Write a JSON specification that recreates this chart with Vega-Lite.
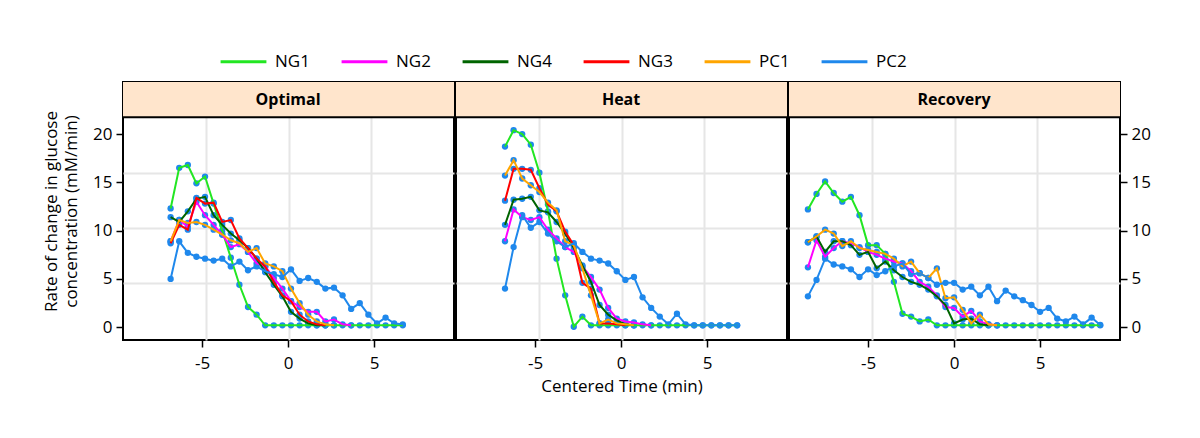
{
"$schema": "https://vega.github.io/schema/vega-lite/v6.json",
"padding": {"left": 41, "top": 37, "right": 5, "bottom": 5},
"data": {"values": [
{"panel":"Optimal","series":"NG1","time":-6.83,"rate":12.3},{"panel":"Optimal","series":"NG1","time":-6.33,"rate":16.5},{"panel":"Optimal","series":"NG1","time":-5.83,"rate":16.8},{"panel":"Optimal","series":"NG1","time":-5.33,"rate":14.9},{"panel":"Optimal","series":"NG1","time":-4.83,"rate":15.6},{"panel":"Optimal","series":"NG1","time":-4.33,"rate":12.8},{"panel":"Optimal","series":"NG1","time":-3.83,"rate":10.0},{"panel":"Optimal","series":"NG1","time":-3.33,"rate":7.2},{"panel":"Optimal","series":"NG1","time":-2.83,"rate":4.4},{"panel":"Optimal","series":"NG1","time":-2.33,"rate":2.1},{"panel":"Optimal","series":"NG1","time":-1.83,"rate":1.3},{"panel":"Optimal","series":"NG1","time":-1.33,"rate":0.2},{"panel":"Optimal","series":"NG1","time":-0.83,"rate":0.2},{"panel":"Optimal","series":"NG1","time":-0.33,"rate":0.2},{"panel":"Optimal","series":"NG1","time":0.17,"rate":0.2},{"panel":"Optimal","series":"NG1","time":0.67,"rate":0.2},{"panel":"Optimal","series":"NG1","time":1.17,"rate":0.2},{"panel":"Optimal","series":"NG1","time":1.67,"rate":0.2},{"panel":"Optimal","series":"NG1","time":2.17,"rate":0.2},{"panel":"Optimal","series":"NG1","time":2.67,"rate":0.2},{"panel":"Optimal","series":"NG1","time":3.17,"rate":0.2},{"panel":"Optimal","series":"NG1","time":3.67,"rate":0.2},{"panel":"Optimal","series":"NG1","time":4.17,"rate":0.2},{"panel":"Optimal","series":"NG1","time":4.67,"rate":0.2},{"panel":"Optimal","series":"NG1","time":5.17,"rate":0.2},{"panel":"Optimal","series":"NG1","time":5.67,"rate":0.2},{"panel":"Optimal","series":"NG1","time":6.17,"rate":0.2},{"panel":"Optimal","series":"NG1","time":6.67,"rate":0.2},
{"panel":"Optimal","series":"NG2","time":-6.83,"rate":8.9},{"panel":"Optimal","series":"NG2","time":-6.33,"rate":11.1},{"panel":"Optimal","series":"NG2","time":-5.83,"rate":10.4},{"panel":"Optimal","series":"NG2","time":-5.33,"rate":13.0},{"panel":"Optimal","series":"NG2","time":-4.83,"rate":11.6},{"panel":"Optimal","series":"NG2","time":-4.33,"rate":10.6},{"panel":"Optimal","series":"NG2","time":-3.83,"rate":9.6},{"panel":"Optimal","series":"NG2","time":-3.33,"rate":8.3},{"panel":"Optimal","series":"NG2","time":-2.83,"rate":8.6},{"panel":"Optimal","series":"NG2","time":-2.33,"rate":7.8},{"panel":"Optimal","series":"NG2","time":-1.83,"rate":6.6},{"panel":"Optimal","series":"NG2","time":-1.33,"rate":6.3},{"panel":"Optimal","series":"NG2","time":-0.83,"rate":5.1},{"panel":"Optimal","series":"NG2","time":-0.33,"rate":4.0},{"panel":"Optimal","series":"NG2","time":0.17,"rate":2.7},{"panel":"Optimal","series":"NG2","time":0.67,"rate":2.1},{"panel":"Optimal","series":"NG2","time":1.17,"rate":1.6},{"panel":"Optimal","series":"NG2","time":1.67,"rate":1.6},{"panel":"Optimal","series":"NG2","time":2.17,"rate":0.6},{"panel":"Optimal","series":"NG2","time":2.67,"rate":0.8},{"panel":"Optimal","series":"NG2","time":3.17,"rate":0.3},{"panel":"Optimal","series":"NG2","time":3.67,"rate":0.2},
{"panel":"Optimal","series":"NG4","time":-6.83,"rate":11.4},{"panel":"Optimal","series":"NG4","time":-6.33,"rate":10.9},{"panel":"Optimal","series":"NG4","time":-5.83,"rate":12.0},{"panel":"Optimal","series":"NG4","time":-5.33,"rate":13.3},{"panel":"Optimal","series":"NG4","time":-4.83,"rate":13.5},{"panel":"Optimal","series":"NG4","time":-4.33,"rate":11.6},{"panel":"Optimal","series":"NG4","time":-3.83,"rate":10.6},{"panel":"Optimal","series":"NG4","time":-3.33,"rate":9.7},{"panel":"Optimal","series":"NG4","time":-2.83,"rate":9.0},{"panel":"Optimal","series":"NG4","time":-2.33,"rate":8.2},{"panel":"Optimal","series":"NG4","time":-1.83,"rate":7.1},{"panel":"Optimal","series":"NG4","time":-1.33,"rate":5.7},{"panel":"Optimal","series":"NG4","time":-0.83,"rate":4.4},{"panel":"Optimal","series":"NG4","time":-0.33,"rate":3.2},{"panel":"Optimal","series":"NG4","time":0.17,"rate":1.6},{"panel":"Optimal","series":"NG4","time":0.67,"rate":0.9},{"panel":"Optimal","series":"NG4","time":1.17,"rate":0.4},{"panel":"Optimal","series":"NG4","time":1.67,"rate":0.2},{"panel":"Optimal","series":"NG4","time":2.17,"rate":0.2},
{"panel":"Optimal","series":"NG3","time":-6.83,"rate":8.7},{"panel":"Optimal","series":"NG3","time":-6.33,"rate":10.6},{"panel":"Optimal","series":"NG3","time":-5.83,"rate":10.1},{"panel":"Optimal","series":"NG3","time":-5.33,"rate":13.4},{"panel":"Optimal","series":"NG3","time":-4.83,"rate":12.8},{"panel":"Optimal","series":"NG3","time":-4.33,"rate":12.9},{"panel":"Optimal","series":"NG3","time":-3.83,"rate":10.9},{"panel":"Optimal","series":"NG3","time":-3.33,"rate":11.1},{"panel":"Optimal","series":"NG3","time":-2.83,"rate":9.2},{"panel":"Optimal","series":"NG3","time":-2.33,"rate":8.2},{"panel":"Optimal","series":"NG3","time":-1.83,"rate":7.1},{"panel":"Optimal","series":"NG3","time":-1.33,"rate":6.3},{"panel":"Optimal","series":"NG3","time":-0.83,"rate":4.7},{"panel":"Optimal","series":"NG3","time":-0.33,"rate":3.3},{"panel":"Optimal","series":"NG3","time":0.17,"rate":2.7},{"panel":"Optimal","series":"NG3","time":0.67,"rate":1.3},{"panel":"Optimal","series":"NG3","time":1.17,"rate":0.6},{"panel":"Optimal","series":"NG3","time":1.67,"rate":0.3},{"panel":"Optimal","series":"NG3","time":2.17,"rate":0.2},
{"panel":"Optimal","series":"PC1","time":-6.83,"rate":8.9},{"panel":"Optimal","series":"PC1","time":-6.33,"rate":11.1},{"panel":"Optimal","series":"PC1","time":-5.83,"rate":10.8},{"panel":"Optimal","series":"PC1","time":-5.33,"rate":10.9},{"panel":"Optimal","series":"PC1","time":-4.83,"rate":10.6},{"panel":"Optimal","series":"PC1","time":-4.33,"rate":10.1},{"panel":"Optimal","series":"PC1","time":-3.83,"rate":9.6},{"panel":"Optimal","series":"PC1","time":-3.33,"rate":9.0},{"panel":"Optimal","series":"PC1","time":-2.83,"rate":8.7},{"panel":"Optimal","series":"PC1","time":-2.33,"rate":7.8},{"panel":"Optimal","series":"PC1","time":-1.83,"rate":8.2},{"panel":"Optimal","series":"PC1","time":-1.33,"rate":6.6},{"panel":"Optimal","series":"PC1","time":-0.83,"rate":6.3},{"panel":"Optimal","series":"PC1","time":-0.33,"rate":5.8},{"panel":"Optimal","series":"PC1","time":0.17,"rate":4.0},{"panel":"Optimal","series":"PC1","time":0.67,"rate":2.5},{"panel":"Optimal","series":"PC1","time":1.17,"rate":1.3},{"panel":"Optimal","series":"PC1","time":1.67,"rate":0.6},{"panel":"Optimal","series":"PC1","time":2.17,"rate":0.3},{"panel":"Optimal","series":"PC1","time":2.67,"rate":0.2},
{"panel":"Optimal","series":"PC2","time":-6.83,"rate":5.0},{"panel":"Optimal","series":"PC2","time":-6.33,"rate":8.9},{"panel":"Optimal","series":"PC2","time":-5.83,"rate":7.7},{"panel":"Optimal","series":"PC2","time":-5.33,"rate":7.3},{"panel":"Optimal","series":"PC2","time":-4.83,"rate":7.1},{"panel":"Optimal","series":"PC2","time":-4.33,"rate":6.9},{"panel":"Optimal","series":"PC2","time":-3.83,"rate":7.1},{"panel":"Optimal","series":"PC2","time":-3.33,"rate":6.3},{"panel":"Optimal","series":"PC2","time":-2.83,"rate":6.8},{"panel":"Optimal","series":"PC2","time":-2.33,"rate":5.9},{"panel":"Optimal","series":"PC2","time":-1.83,"rate":6.3},{"panel":"Optimal","series":"PC2","time":-1.33,"rate":5.8},{"panel":"Optimal","series":"PC2","time":-0.83,"rate":5.5},{"panel":"Optimal","series":"PC2","time":-0.33,"rate":5.2},{"panel":"Optimal","series":"PC2","time":0.17,"rate":6.0},{"panel":"Optimal","series":"PC2","time":0.67,"rate":4.8},{"panel":"Optimal","series":"PC2","time":1.17,"rate":5.1},{"panel":"Optimal","series":"PC2","time":1.67,"rate":4.7},{"panel":"Optimal","series":"PC2","time":2.17,"rate":4.0},{"panel":"Optimal","series":"PC2","time":2.67,"rate":4.1},{"panel":"Optimal","series":"PC2","time":3.17,"rate":3.3},{"panel":"Optimal","series":"PC2","time":3.67,"rate":1.9},{"panel":"Optimal","series":"PC2","time":4.17,"rate":2.5},{"panel":"Optimal","series":"PC2","time":4.67,"rate":1.3},{"panel":"Optimal","series":"PC2","time":5.17,"rate":0.4},{"panel":"Optimal","series":"PC2","time":5.67,"rate":1.0},{"panel":"Optimal","series":"PC2","time":6.17,"rate":0.4},{"panel":"Optimal","series":"PC2","time":6.67,"rate":0.3},
{"panel":"Heat","series":"NG1","time":-6.75,"rate":18.7},{"panel":"Heat","series":"NG1","time":-6.25,"rate":20.4},{"panel":"Heat","series":"NG1","time":-5.75,"rate":20.0},{"panel":"Heat","series":"NG1","time":-5.25,"rate":18.9},{"panel":"Heat","series":"NG1","time":-4.75,"rate":16.0},{"panel":"Heat","series":"NG1","time":-4.25,"rate":12.0},{"panel":"Heat","series":"NG1","time":-3.75,"rate":7.1},{"panel":"Heat","series":"NG1","time":-3.25,"rate":3.3},{"panel":"Heat","series":"NG1","time":-2.75,"rate":0.05},{"panel":"Heat","series":"NG1","time":-2.25,"rate":1.1},{"panel":"Heat","series":"NG1","time":-1.75,"rate":0.2},{"panel":"Heat","series":"NG1","time":-1.25,"rate":0.2},{"panel":"Heat","series":"NG1","time":-0.75,"rate":0.2},{"panel":"Heat","series":"NG1","time":-0.25,"rate":0.2},{"panel":"Heat","series":"NG1","time":0.25,"rate":0.2},{"panel":"Heat","series":"NG1","time":0.75,"rate":0.2},{"panel":"Heat","series":"NG1","time":1.25,"rate":0.2},{"panel":"Heat","series":"NG1","time":1.75,"rate":0.2},{"panel":"Heat","series":"NG1","time":2.25,"rate":0.2},{"panel":"Heat","series":"NG1","time":2.75,"rate":0.2},{"panel":"Heat","series":"NG1","time":3.25,"rate":0.2},{"panel":"Heat","series":"NG1","time":3.75,"rate":0.2},{"panel":"Heat","series":"NG1","time":4.25,"rate":0.2},{"panel":"Heat","series":"NG1","time":4.75,"rate":0.2},{"panel":"Heat","series":"NG1","time":5.25,"rate":0.2},{"panel":"Heat","series":"NG1","time":5.75,"rate":0.2},{"panel":"Heat","series":"NG1","time":6.25,"rate":0.2},{"panel":"Heat","series":"NG1","time":6.75,"rate":0.2},
{"panel":"Heat","series":"NG2","time":-6.75,"rate":8.9},{"panel":"Heat","series":"NG2","time":-6.25,"rate":12.2},{"panel":"Heat","series":"NG2","time":-5.75,"rate":11.4},{"panel":"Heat","series":"NG2","time":-5.25,"rate":11.1},{"panel":"Heat","series":"NG2","time":-4.75,"rate":11.4},{"panel":"Heat","series":"NG2","time":-4.25,"rate":10.1},{"panel":"Heat","series":"NG2","time":-3.75,"rate":9.2},{"panel":"Heat","series":"NG2","time":-3.25,"rate":8.3},{"panel":"Heat","series":"NG2","time":-2.75,"rate":7.8},{"panel":"Heat","series":"NG2","time":-2.25,"rate":6.3},{"panel":"Heat","series":"NG2","time":-1.75,"rate":5.2},{"panel":"Heat","series":"NG2","time":-1.25,"rate":3.9},{"panel":"Heat","series":"NG2","time":-0.75,"rate":2.0},{"panel":"Heat","series":"NG2","time":-0.25,"rate":0.9},{"panel":"Heat","series":"NG2","time":0.25,"rate":0.6},{"panel":"Heat","series":"NG2","time":0.75,"rate":0.5},{"panel":"Heat","series":"NG2","time":1.25,"rate":0.3},{"panel":"Heat","series":"NG2","time":1.75,"rate":0.2},
{"panel":"Heat","series":"NG4","time":-6.75,"rate":10.6},{"panel":"Heat","series":"NG4","time":-6.25,"rate":13.2},{"panel":"Heat","series":"NG4","time":-5.75,"rate":13.3},{"panel":"Heat","series":"NG4","time":-5.25,"rate":13.5},{"panel":"Heat","series":"NG4","time":-4.75,"rate":12.1},{"panel":"Heat","series":"NG4","time":-4.25,"rate":11.9},{"panel":"Heat","series":"NG4","time":-3.75,"rate":10.9},{"panel":"Heat","series":"NG4","time":-3.25,"rate":9.7},{"panel":"Heat","series":"NG4","time":-2.75,"rate":8.2},{"panel":"Heat","series":"NG4","time":-2.25,"rate":6.4},{"panel":"Heat","series":"NG4","time":-1.75,"rate":4.7},{"panel":"Heat","series":"NG4","time":-1.25,"rate":2.3},{"panel":"Heat","series":"NG4","time":-0.75,"rate":1.3},{"panel":"Heat","series":"NG4","time":-0.25,"rate":0.7},{"panel":"Heat","series":"NG4","time":0.25,"rate":0.3},{"panel":"Heat","series":"NG4","time":0.75,"rate":0.2},
{"panel":"Heat","series":"NG3","time":-6.75,"rate":13.1},{"panel":"Heat","series":"NG3","time":-6.25,"rate":16.4},{"panel":"Heat","series":"NG3","time":-5.75,"rate":16.4},{"panel":"Heat","series":"NG3","time":-5.25,"rate":16.3},{"panel":"Heat","series":"NG3","time":-4.75,"rate":14.4},{"panel":"Heat","series":"NG3","time":-4.25,"rate":12.7},{"panel":"Heat","series":"NG3","time":-3.75,"rate":12.0},{"panel":"Heat","series":"NG3","time":-3.25,"rate":9.9},{"panel":"Heat","series":"NG3","time":-2.75,"rate":8.5},{"panel":"Heat","series":"NG3","time":-2.25,"rate":4.6},{"panel":"Heat","series":"NG3","time":-1.75,"rate":4.0},{"panel":"Heat","series":"NG3","time":-1.25,"rate":0.4},{"panel":"Heat","series":"NG3","time":-0.75,"rate":0.4},{"panel":"Heat","series":"NG3","time":-0.25,"rate":0.3},{"panel":"Heat","series":"NG3","time":0.25,"rate":0.2},
{"panel":"Heat","series":"PC1","time":-6.75,"rate":15.7},{"panel":"Heat","series":"PC1","time":-6.25,"rate":17.3},{"panel":"Heat","series":"PC1","time":-5.75,"rate":15.4},{"panel":"Heat","series":"PC1","time":-5.25,"rate":14.7},{"panel":"Heat","series":"PC1","time":-4.75,"rate":14.0},{"panel":"Heat","series":"PC1","time":-4.25,"rate":12.9},{"panel":"Heat","series":"PC1","time":-3.75,"rate":12.1},{"panel":"Heat","series":"PC1","time":-3.25,"rate":8.9},{"panel":"Heat","series":"PC1","time":-2.75,"rate":8.5},{"panel":"Heat","series":"PC1","time":-2.25,"rate":6.1},{"panel":"Heat","series":"PC1","time":-1.75,"rate":3.3},{"panel":"Heat","series":"PC1","time":-1.25,"rate":0.4},{"panel":"Heat","series":"PC1","time":-0.75,"rate":0.8},{"panel":"Heat","series":"PC1","time":-0.25,"rate":0.4},{"panel":"Heat","series":"PC1","time":0.25,"rate":0.3},{"panel":"Heat","series":"PC1","time":0.75,"rate":0.2},
{"panel":"Heat","series":"PC2","time":-6.75,"rate":4.0},{"panel":"Heat","series":"PC2","time":-6.25,"rate":8.3},{"panel":"Heat","series":"PC2","time":-5.75,"rate":11.6},{"panel":"Heat","series":"PC2","time":-5.25,"rate":10.3},{"panel":"Heat","series":"PC2","time":-4.75,"rate":10.9},{"panel":"Heat","series":"PC2","time":-4.25,"rate":9.7},{"panel":"Heat","series":"PC2","time":-3.75,"rate":8.9},{"panel":"Heat","series":"PC2","time":-3.25,"rate":8.3},{"panel":"Heat","series":"PC2","time":-2.75,"rate":8.7},{"panel":"Heat","series":"PC2","time":-2.25,"rate":7.8},{"panel":"Heat","series":"PC2","time":-1.75,"rate":7.1},{"panel":"Heat","series":"PC2","time":-1.25,"rate":6.9},{"panel":"Heat","series":"PC2","time":-0.75,"rate":6.6},{"panel":"Heat","series":"PC2","time":-0.25,"rate":5.8},{"panel":"Heat","series":"PC2","time":0.25,"rate":4.9},{"panel":"Heat","series":"PC2","time":0.75,"rate":5.2},{"panel":"Heat","series":"PC2","time":1.25,"rate":3.1},{"panel":"Heat","series":"PC2","time":1.75,"rate":2.0},{"panel":"Heat","series":"PC2","time":2.25,"rate":1.1},{"panel":"Heat","series":"PC2","time":2.75,"rate":0.3},{"panel":"Heat","series":"PC2","time":3.25,"rate":1.4},{"panel":"Heat","series":"PC2","time":3.75,"rate":0.3},{"panel":"Heat","series":"PC2","time":4.25,"rate":0.2},{"panel":"Heat","series":"PC2","time":4.75,"rate":0.2},{"panel":"Heat","series":"PC2","time":5.25,"rate":0.2},{"panel":"Heat","series":"PC2","time":5.75,"rate":0.2},{"panel":"Heat","series":"PC2","time":6.25,"rate":0.2},{"panel":"Heat","series":"PC2","time":6.75,"rate":0.2},
{"panel":"Recovery","series":"NG1","time":-8.5,"rate":12.2},{"panel":"Recovery","series":"NG1","time":-8.0,"rate":13.8},{"panel":"Recovery","series":"NG1","time":-7.5,"rate":15.1},{"panel":"Recovery","series":"NG1","time":-7.0,"rate":13.9},{"panel":"Recovery","series":"NG1","time":-6.5,"rate":13.0},{"panel":"Recovery","series":"NG1","time":-6.0,"rate":13.5},{"panel":"Recovery","series":"NG1","time":-5.5,"rate":11.6},{"panel":"Recovery","series":"NG1","time":-5.0,"rate":8.5},{"panel":"Recovery","series":"NG1","time":-4.5,"rate":8.5},{"panel":"Recovery","series":"NG1","time":-4.0,"rate":7.6},{"panel":"Recovery","series":"NG1","time":-3.5,"rate":4.7},{"panel":"Recovery","series":"NG1","time":-3.0,"rate":1.4},{"panel":"Recovery","series":"NG1","time":-2.5,"rate":1.1},{"panel":"Recovery","series":"NG1","time":-2.0,"rate":0.6},{"panel":"Recovery","series":"NG1","time":-1.5,"rate":0.8},{"panel":"Recovery","series":"NG1","time":-1.0,"rate":0.2},{"panel":"Recovery","series":"NG1","time":-0.5,"rate":0.2},{"panel":"Recovery","series":"NG1","time":0.0,"rate":0.2},{"panel":"Recovery","series":"NG1","time":0.5,"rate":0.2},{"panel":"Recovery","series":"NG1","time":1.0,"rate":0.2},{"panel":"Recovery","series":"NG1","time":1.5,"rate":0.2},{"panel":"Recovery","series":"NG1","time":2.0,"rate":0.2},{"panel":"Recovery","series":"NG1","time":2.5,"rate":0.2},{"panel":"Recovery","series":"NG1","time":3.0,"rate":0.2},{"panel":"Recovery","series":"NG1","time":3.5,"rate":0.2},{"panel":"Recovery","series":"NG1","time":4.0,"rate":0.2},{"panel":"Recovery","series":"NG1","time":4.5,"rate":0.2},{"panel":"Recovery","series":"NG1","time":5.0,"rate":0.2},{"panel":"Recovery","series":"NG1","time":5.5,"rate":0.2},{"panel":"Recovery","series":"NG1","time":6.0,"rate":0.2},{"panel":"Recovery","series":"NG1","time":6.5,"rate":0.2},{"panel":"Recovery","series":"NG1","time":7.0,"rate":0.2},{"panel":"Recovery","series":"NG1","time":7.5,"rate":0.2},{"panel":"Recovery","series":"NG1","time":8.0,"rate":0.2},{"panel":"Recovery","series":"NG1","time":8.5,"rate":0.2},
{"panel":"Recovery","series":"NG2","time":-8.5,"rate":6.2},{"panel":"Recovery","series":"NG2","time":-8.0,"rate":9.0},{"panel":"Recovery","series":"NG2","time":-7.5,"rate":7.3},{"panel":"Recovery","series":"NG2","time":-7.0,"rate":8.2},{"panel":"Recovery","series":"NG2","time":-6.5,"rate":8.9},{"panel":"Recovery","series":"NG2","time":-6.0,"rate":8.7},{"panel":"Recovery","series":"NG2","time":-5.5,"rate":8.3},{"panel":"Recovery","series":"NG2","time":-5.0,"rate":7.8},{"panel":"Recovery","series":"NG2","time":-4.5,"rate":7.5},{"panel":"Recovery","series":"NG2","time":-4.0,"rate":7.1},{"panel":"Recovery","series":"NG2","time":-3.5,"rate":6.8},{"panel":"Recovery","series":"NG2","time":-3.0,"rate":6.6},{"panel":"Recovery","series":"NG2","time":-2.5,"rate":5.8},{"panel":"Recovery","series":"NG2","time":-2.0,"rate":4.7},{"panel":"Recovery","series":"NG2","time":-1.5,"rate":4.2},{"panel":"Recovery","series":"NG2","time":-1.0,"rate":3.3},{"panel":"Recovery","series":"NG2","time":-0.5,"rate":2.1},{"panel":"Recovery","series":"NG2","time":0.0,"rate":2.0},{"panel":"Recovery","series":"NG2","time":0.5,"rate":1.1},{"panel":"Recovery","series":"NG2","time":1.0,"rate":1.7},{"panel":"Recovery","series":"NG2","time":1.5,"rate":0.6},{"panel":"Recovery","series":"NG2","time":2.0,"rate":0.3},{"panel":"Recovery","series":"NG2","time":2.5,"rate":0.2},
{"panel":"Recovery","series":"NG4","time":-8.5,"rate":8.8},{"panel":"Recovery","series":"NG4","time":-8.0,"rate":9.4},{"panel":"Recovery","series":"NG4","time":-7.5,"rate":7.8},{"panel":"Recovery","series":"NG4","time":-7.0,"rate":8.9},{"panel":"Recovery","series":"NG4","time":-6.5,"rate":8.9},{"panel":"Recovery","series":"NG4","time":-6.0,"rate":8.5},{"panel":"Recovery","series":"NG4","time":-5.5,"rate":7.5},{"panel":"Recovery","series":"NG4","time":-5.0,"rate":7.8},{"panel":"Recovery","series":"NG4","time":-4.5,"rate":6.1},{"panel":"Recovery","series":"NG4","time":-4.0,"rate":6.8},{"panel":"Recovery","series":"NG4","time":-3.5,"rate":5.9},{"panel":"Recovery","series":"NG4","time":-3.0,"rate":5.2},{"panel":"Recovery","series":"NG4","time":-2.5,"rate":4.7},{"panel":"Recovery","series":"NG4","time":-2.0,"rate":4.4},{"panel":"Recovery","series":"NG4","time":-1.5,"rate":3.9},{"panel":"Recovery","series":"NG4","time":-1.0,"rate":3.2},{"panel":"Recovery","series":"NG4","time":-0.5,"rate":2.3},{"panel":"Recovery","series":"NG4","time":0.0,"rate":0.4},{"panel":"Recovery","series":"NG4","time":0.5,"rate":0.8},{"panel":"Recovery","series":"NG4","time":1.0,"rate":0.9},{"panel":"Recovery","series":"NG4","time":1.5,"rate":0.3},{"panel":"Recovery","series":"NG4","time":2.0,"rate":0.2},
{"panel":"Recovery","series":"PC1","time":-8.5,"rate":8.8},{"panel":"Recovery","series":"PC1","time":-8.0,"rate":9.4},{"panel":"Recovery","series":"PC1","time":-7.5,"rate":10.1},{"panel":"Recovery","series":"PC1","time":-7.0,"rate":9.7},{"panel":"Recovery","series":"PC1","time":-6.5,"rate":8.4},{"panel":"Recovery","series":"PC1","time":-6.0,"rate":8.9},{"panel":"Recovery","series":"PC1","time":-5.5,"rate":8.2},{"panel":"Recovery","series":"PC1","time":-5.0,"rate":8.0},{"panel":"Recovery","series":"PC1","time":-4.5,"rate":7.8},{"panel":"Recovery","series":"PC1","time":-4.0,"rate":7.6},{"panel":"Recovery","series":"PC1","time":-3.5,"rate":7.1},{"panel":"Recovery","series":"PC1","time":-3.0,"rate":6.3},{"panel":"Recovery","series":"PC1","time":-2.5,"rate":6.8},{"panel":"Recovery","series":"PC1","time":-2.0,"rate":5.6},{"panel":"Recovery","series":"PC1","time":-1.5,"rate":5.1},{"panel":"Recovery","series":"PC1","time":-1.0,"rate":6.1},{"panel":"Recovery","series":"PC1","time":-0.5,"rate":3.0},{"panel":"Recovery","series":"PC1","time":0.0,"rate":3.1},{"panel":"Recovery","series":"PC1","time":0.5,"rate":1.8},{"panel":"Recovery","series":"PC1","time":1.0,"rate":0.4},{"panel":"Recovery","series":"PC1","time":1.5,"rate":1.3},{"panel":"Recovery","series":"PC1","time":2.0,"rate":0.3},{"panel":"Recovery","series":"PC1","time":2.5,"rate":0.2},
{"panel":"Recovery","series":"PC2","time":-8.5,"rate":3.2},{"panel":"Recovery","series":"PC2","time":-8.0,"rate":4.9},{"panel":"Recovery","series":"PC2","time":-7.5,"rate":7.1},{"panel":"Recovery","series":"PC2","time":-7.0,"rate":6.5},{"panel":"Recovery","series":"PC2","time":-6.5,"rate":6.3},{"panel":"Recovery","series":"PC2","time":-6.0,"rate":6.0},{"panel":"Recovery","series":"PC2","time":-5.5,"rate":5.2},{"panel":"Recovery","series":"PC2","time":-5.0,"rate":6.0},{"panel":"Recovery","series":"PC2","time":-4.5,"rate":5.4},{"panel":"Recovery","series":"PC2","time":-4.0,"rate":5.8},{"panel":"Recovery","series":"PC2","time":-3.5,"rate":6.3},{"panel":"Recovery","series":"PC2","time":-3.0,"rate":6.6},{"panel":"Recovery","series":"PC2","time":-2.5,"rate":5.5},{"panel":"Recovery","series":"PC2","time":-2.0,"rate":5.6},{"panel":"Recovery","series":"PC2","time":-1.5,"rate":5.1},{"panel":"Recovery","series":"PC2","time":-1.0,"rate":4.4},{"panel":"Recovery","series":"PC2","time":-0.5,"rate":4.6},{"panel":"Recovery","series":"PC2","time":0.0,"rate":4.6},{"panel":"Recovery","series":"PC2","time":0.5,"rate":3.9},{"panel":"Recovery","series":"PC2","time":1.0,"rate":4.2},{"panel":"Recovery","series":"PC2","time":1.5,"rate":3.3},{"panel":"Recovery","series":"PC2","time":2.0,"rate":4.2},{"panel":"Recovery","series":"PC2","time":2.5,"rate":2.7},{"panel":"Recovery","series":"PC2","time":3.0,"rate":3.8},{"panel":"Recovery","series":"PC2","time":3.5,"rate":3.2},{"panel":"Recovery","series":"PC2","time":4.0,"rate":2.8},{"panel":"Recovery","series":"PC2","time":4.5,"rate":2.3},{"panel":"Recovery","series":"PC2","time":5.0,"rate":1.6},{"panel":"Recovery","series":"PC2","time":5.5,"rate":2.0},{"panel":"Recovery","series":"PC2","time":6.0,"rate":0.9},{"panel":"Recovery","series":"PC2","time":6.5,"rate":0.6},{"panel":"Recovery","series":"PC2","time":7.0,"rate":1.1},{"panel":"Recovery","series":"PC2","time":7.5,"rate":0.3},{"panel":"Recovery","series":"PC2","time":8.0,"rate":1.0},{"panel":"Recovery","series":"PC2","time":8.5,"rate":0.24}
]},
"spacing": -4,
"hconcat": [
{"width": 331, "height": 258,
 "resolve": {"axis": {"x": "independent", "y": "independent"}},
 "layer": [
  {"transform": [{"filter": "datum.panel === 'Optimal'"}],
   "mark": {"type": "circle", "size": 40, "color": "#1f88ec", "opacity": 1},
   "encoding": {
     "x": {"field": "time", "type": "quantitative", "scale": {"domain": [-9.6, 9.65], "nice": false, "zero": false},
           "axis": {"orient": "top", "grid": true, "values": [-4.8, 0.03, 4.85], "ticks": false, "labels": false, "title": null, "gridColor": "#e6e6e6", "gridWidth": 2}},
     "y": {"field": "rate", "type": "quantitative", "scale": {"domain": [-1.32, 25.39], "nice": false, "zero": false},
           "axis": {"orient": "right", "grid": true, "values": [4.55, 10.25, 15.94], "ticks": false, "labels": false, "title": null, "gridColor": "#e6e6e6", "gridWidth": 2}}}},
  {"data": {"values": [{"label": "Optimal"}]},
   "mark": {"type": "rect", "fill": "#ffe5cc"},
   "encoding": {"x": {"datum": -9.6, "axis": null}, "x2": {"datum": 9.65}, "y": {"datum": 21.74, "axis": null}, "y2": {"datum": 25.39}}},
  {"data": {"values": [{"label": "Optimal"}]},
   "mark": {"type": "rule", "color": "black", "strokeWidth": 2},
   "encoding": {"y": {"datum": 21.74, "axis": null}}},
  {"data": {"values": [{"label": "Optimal"}]},
   "mark": {"type": "text", "fontWeight": "bold", "fontSize": 16, "color": "black"},
   "encoding": {"x": {"datum": 0, "axis": null}, "y": {"datum": 23.56, "axis": null}, "text": {"field": "label"}}},
  {"transform": [{"filter": "datum.panel === 'Optimal'"}],
   "mark": {"type": "line", "strokeWidth": 2},
   "encoding": {
     "x": {"field": "time", "type": "quantitative", "axis": {"orient": "bottom", "values": [-5, 0, 5], "labelExpr": "'' + datum.value", "title": null}},
     "y": {"field": "rate", "type": "quantitative", "axis": {"orient": "left", "values": [0, 5, 10, 15, 20], "labelExpr": "'' + datum.value", "labelPadding": 4, "titlePadding": 12, "titleLineHeight": 20, "title": ["Rate of change in glucose", "concentration (mM/min)"]}},
     "color": {"field": "series", "type": "nominal",
       "scale": {"domain": ["NG1", "NG2", "NG4", "NG3", "PC1", "PC2"], "range": ["#22e622", "#ff00ff", "#006400", "#ff0000", "#ffa500", "#1f88ec"]},
       "legend": {"orient": "none", "legendX": 96, "legendY": -45, "direction": "horizontal", "title": null}}}}
 ]},
{"width": 331, "height": 258,
 "resolve": {"axis": {"x": "independent", "y": "independent"}},
 "layer": [
  {"transform": [{"filter": "datum.panel === 'Heat'"}],
   "mark": {"type": "circle", "size": 40, "color": "#1f88ec", "opacity": 1},
   "encoding": {
     "x": {"field": "time", "type": "quantitative", "scale": {"domain": [-9.6, 9.65], "nice": false, "zero": false},
           "axis": {"orient": "top", "grid": true, "values": [-4.8, 0.03, 4.85], "ticks": false, "labels": false, "title": null, "gridColor": "#e6e6e6", "gridWidth": 2}},
     "y": {"field": "rate", "type": "quantitative", "scale": {"domain": [-1.32, 25.39], "nice": false, "zero": false},
           "axis": {"orient": "right", "grid": true, "values": [4.55, 10.25, 15.94], "ticks": false, "labels": false, "title": null, "gridColor": "#e6e6e6", "gridWidth": 2}}}},
  {"data": {"values": [{"label": "Heat"}]},
   "mark": {"type": "rect", "fill": "#ffe5cc"},
   "encoding": {"x": {"datum": -9.6, "axis": null}, "x2": {"datum": 9.65}, "y": {"datum": 21.74, "axis": null}, "y2": {"datum": 25.39}}},
  {"data": {"values": [{"label": "Heat"}]},
   "mark": {"type": "rule", "color": "black", "strokeWidth": 2},
   "encoding": {"y": {"datum": 21.74, "axis": null}}},
  {"data": {"values": [{"label": "Heat"}]},
   "mark": {"type": "text", "fontWeight": "bold", "fontSize": 16, "color": "black"},
   "encoding": {"x": {"datum": 0, "axis": null}, "y": {"datum": 23.56, "axis": null}, "text": {"field": "label"}}},
  {"transform": [{"filter": "datum.panel === 'Heat'"}],
   "mark": {"type": "line", "strokeWidth": 2},
   "encoding": {
     "x": {"field": "time", "type": "quantitative", "axis": {"orient": "bottom", "values": [-5, 0, 5], "labelExpr": "'' + datum.value", "title": "Centered Time (min)", "titlePadding": 7}},
     "y": {"field": "rate", "type": "quantitative", "axis": null},
     "color": {"field": "series", "type": "nominal",
       "scale": {"domain": ["NG1", "NG2", "NG4", "NG3", "PC1", "PC2"], "range": ["#22e622", "#ff00ff", "#006400", "#ff0000", "#ffa500", "#1f88ec"]},
       "legend": {"orient": "none", "legendX": 96, "legendY": -45, "direction": "horizontal", "title": null}}}}
 ]},
{"width": 331, "height": 258,
 "resolve": {"axis": {"x": "independent", "y": "independent"}},
 "layer": [
  {"transform": [{"filter": "datum.panel === 'Recovery'"}],
   "mark": {"type": "circle", "size": 40, "color": "#1f88ec", "opacity": 1},
   "encoding": {
     "x": {"field": "time", "type": "quantitative", "scale": {"domain": [-9.6, 9.65], "nice": false, "zero": false},
           "axis": {"orient": "top", "grid": true, "values": [-4.8, 0.03, 4.85], "ticks": false, "labels": false, "title": null, "gridColor": "#e6e6e6", "gridWidth": 2}},
     "y": {"field": "rate", "type": "quantitative", "scale": {"domain": [-1.32, 25.39], "nice": false, "zero": false},
           "axis": {"orient": "left", "grid": true, "values": [4.55, 10.25, 15.94], "ticks": false, "labels": false, "title": null, "gridColor": "#e6e6e6", "gridWidth": 2}}}},
  {"data": {"values": [{"label": "Recovery"}]},
   "mark": {"type": "rect", "fill": "#ffe5cc"},
   "encoding": {"x": {"datum": -9.6, "axis": null}, "x2": {"datum": 9.65}, "y": {"datum": 21.74, "axis": null}, "y2": {"datum": 25.39}}},
  {"data": {"values": [{"label": "Recovery"}]},
   "mark": {"type": "rule", "color": "black", "strokeWidth": 2},
   "encoding": {"y": {"datum": 21.74, "axis": null}}},
  {"data": {"values": [{"label": "Recovery"}]},
   "mark": {"type": "text", "fontWeight": "bold", "fontSize": 16, "color": "black"},
   "encoding": {"x": {"datum": 0, "axis": null}, "y": {"datum": 23.56, "axis": null}, "text": {"field": "label"}}},
  {"transform": [{"filter": "datum.panel === 'Recovery'"}],
   "mark": {"type": "line", "strokeWidth": 2},
   "encoding": {
     "x": {"field": "time", "type": "quantitative", "axis": {"orient": "bottom", "values": [-5, 0, 5], "labelExpr": "'' + datum.value", "title": null}},
     "y": {"field": "rate", "type": "quantitative", "axis": {"orient": "right", "values": [0, 5, 10, 15, 20], "labelExpr": "'' + datum.value", "labelPadding": 4, "title": null}},
     "color": {"field": "series", "type": "nominal",
       "scale": {"domain": ["NG1", "NG2", "NG4", "NG3", "PC1", "PC2"], "range": ["#22e622", "#ff00ff", "#006400", "#ff0000", "#ffa500", "#1f88ec"]},
       "legend": {"orient": "none", "legendX": 96, "legendY": -45, "direction": "horizontal", "title": null}}}}
 ]}
],
"config": {
 "font": "Open Sans",
 "view": {"stroke": "black", "strokeWidth": 2},
 "axis": {"domain": false, "grid": false, "tickColor": "black", "tickSize": 7, "tickWidth": 1.5, "labelFontSize": 17, "labelColor": "black", "labelPadding": 8, "titleFontSize": 17, "titleFontWeight": "normal", "titleColor": "black"},
 "legend": {"symbolType": "stroke", "symbolSize": 2100, "symbolStrokeWidth": 3, "labelFontSize": 17, "labelColor": "black", "labelOffset": 7, "columnPadding": 25}
}
}
